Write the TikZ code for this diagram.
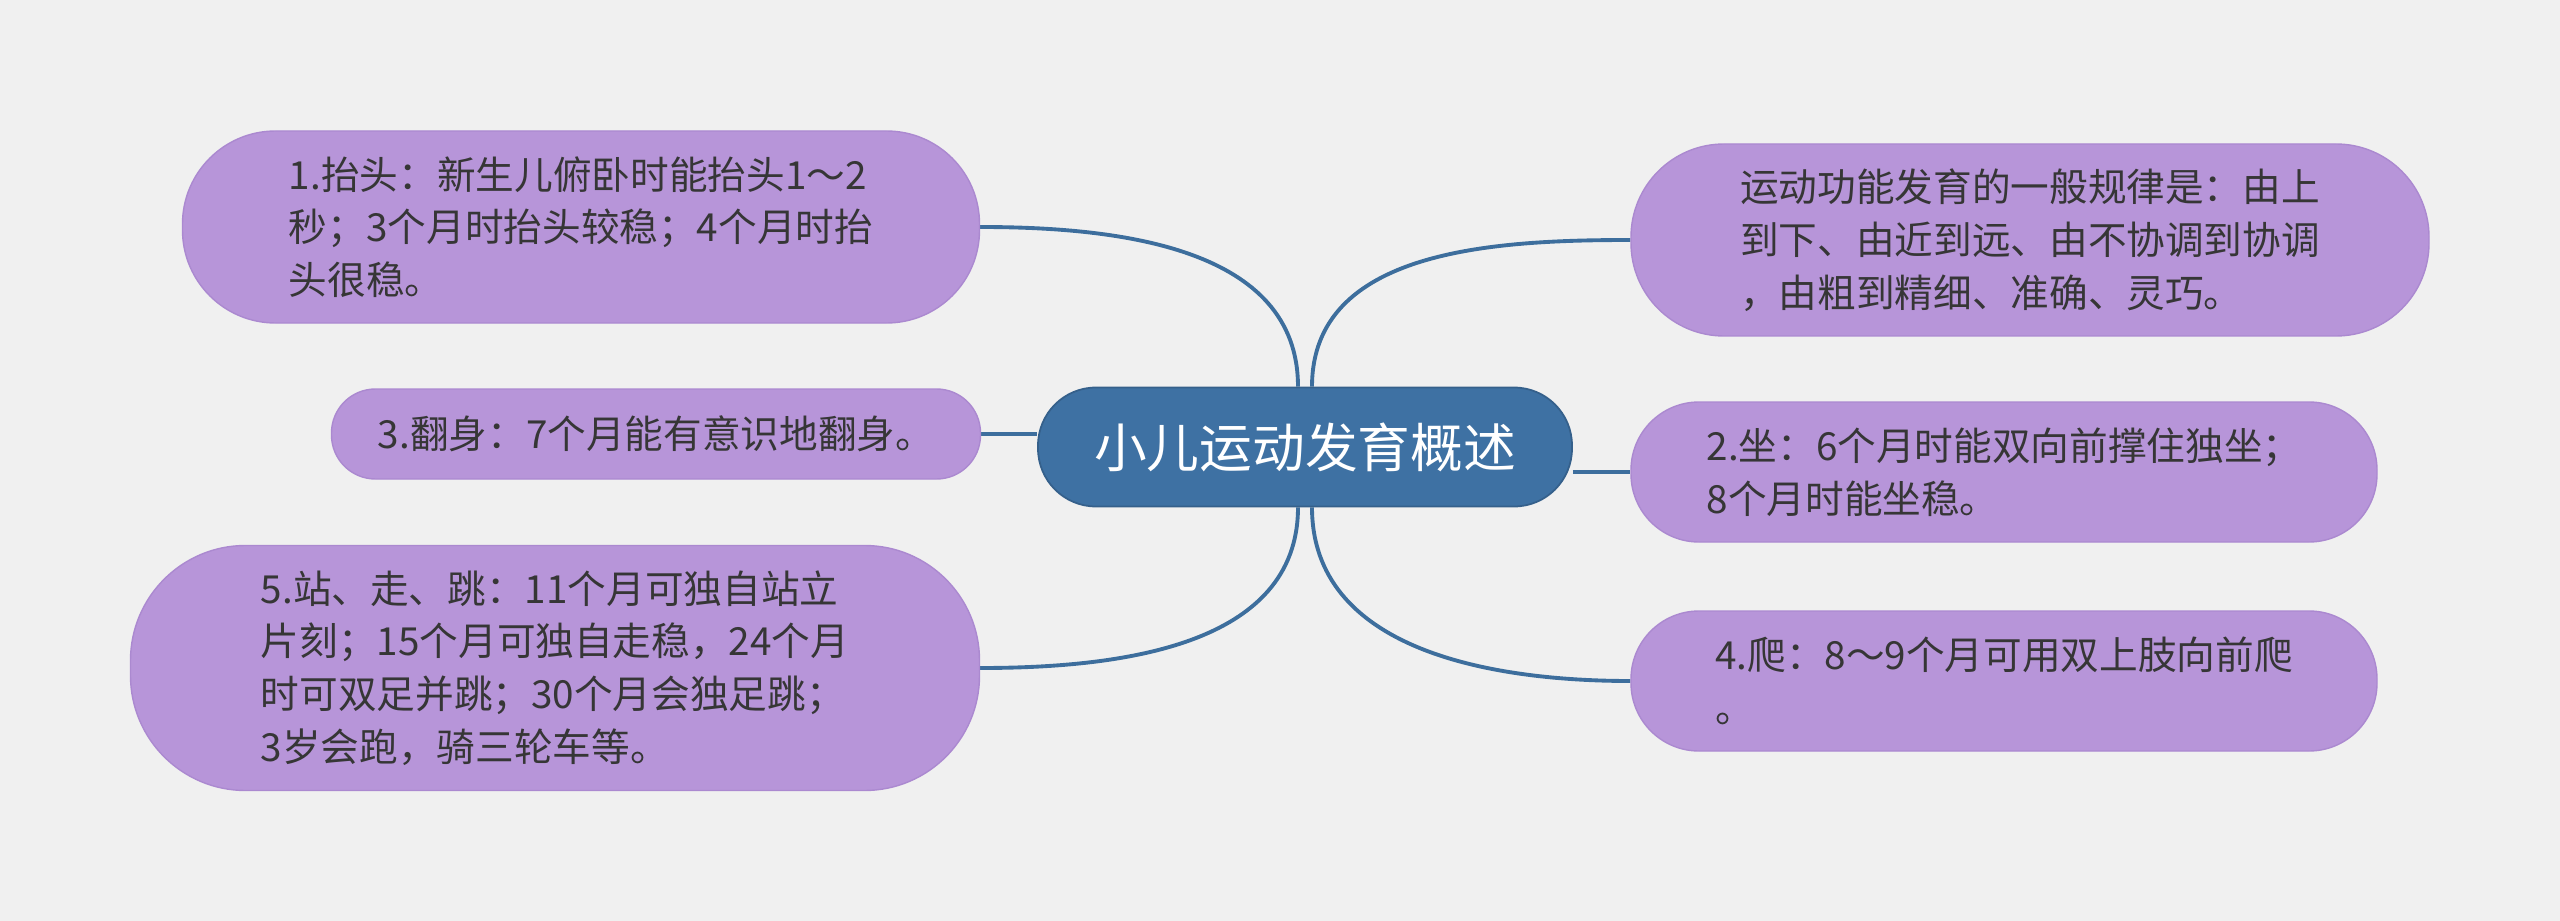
\documentclass[tikz,border=0pt]{standalone}
\usepackage{fontspec}
\newfontfamily\cjk{Noto Sans CJK SC}
\usepackage{tikz}
\usetikzlibrary{positioning, backgrounds}
\usepackage{xcolor}
\definecolor{pagegray}{HTML}{F0F0F0}
\definecolor{hubblue}{HTML}{3E71A3}
\definecolor{linkblue}{HTML}{3D6E9D}
\definecolor{leafpurple}{HTML}{B795D9}
\definecolor{leafedge}{HTML}{AB89D0}
\definecolor{inkgray}{HTML}{363636}
\pgfdeclarelayer{links}
\pgfsetlayers{background,links,main}

\begin{document}
\begin{tikzpicture}[
      every node/.style={font=\cjk\fontsize{11pt}{15pt}\selectfont},
      leaf/.style={draw=leafedge, line width=0.4pt, fill=leafpurple, text=inkgray, align=left, inner sep=0pt},
      hub/.style={draw=hubblue!85!black, line width=0.5pt, fill=hubblue, text=white, rounded corners=0.58cm,
                  minimum width=5.34cm, minimum height=1.19cm, font=\cjk\fontsize{15pt}{18pt}\selectfont},
      link/.style={draw=linkblue, line width=1.1pt},
    ]
    \begin{scope}[on background layer]
      \fill[pagegray] (0,0) rectangle (25.6,-9.21);
    \end{scope}

    \node[hub] (root) at (13.05,-4.47) {小儿运动发育概述};

    % left side
    \node[leaf, rounded corners=0.93cm, minimum width=7.97cm, minimum height=1.92cm] (lift) at (5.81,-2.27)
      {1.抬头：新生儿俯卧时能抬头1～2\\秒；3个月时抬头较稳；4个月时抬\\头很稳。};
    \node[leaf, rounded corners=0.44cm, minimum width=6.49cm, minimum height=0.90cm] (roll) at (6.56,-4.34)
      {3.翻身：7个月能有意识地翻身。};
    \node[leaf, rounded corners=1.15cm, minimum width=8.49cm, minimum height=2.45cm] (stand) at (5.55,-6.68)
      {5.站、走、跳：11个月可独自站立\\片刻；15个月可独自走稳，24个月\\时可双足并跳；30个月会独足跳；\\3岁会跑，骑三轮车等。};

    % right side
    \node[leaf, rounded corners=0.93cm, minimum width=7.98cm, minimum height=1.92cm] (rule) at (20.30,-2.40)
      {运动功能发育的一般规律是：由上\\到下、由近到远、由不协调到协调\\，由粗到精细、准确、灵巧。};
    \node[leaf, rounded corners=0.68cm, minimum width=7.46cm, minimum height=1.40cm] (sit) at (20.04,-4.72)
      {2.坐：6个月时能双向前撑住独坐；\\8个月时能坐稳。};
    \node[leaf, rounded corners=0.68cm, minimum width=7.46cm, minimum height=1.40cm] (crawl) at (20.04,-6.81)
      {4.爬：8～9个月可用双上肢向前爬\\。};

    \begin{pgfonlayer}{links}
      \draw[link] ([xshift=-0.7mm]root.north) to[out=90, in=0] (lift.east);
      \draw[link] ([xshift=0.7mm]root.north) to[out=90, in=180] (rule.west);
      \draw[link] (roll.east) -- (roll.east -| root.west);
      \draw[link] (sit.west -| root.east) -- (sit.west);
      \draw[link] ([xshift=-0.7mm]root.south) to[out=-90, in=0] (stand.east);
      \draw[link] ([xshift=0.7mm]root.south) to[out=-90, in=180] (crawl.west);
    \end{pgfonlayer}
  \end{tikzpicture}
\end{document}
